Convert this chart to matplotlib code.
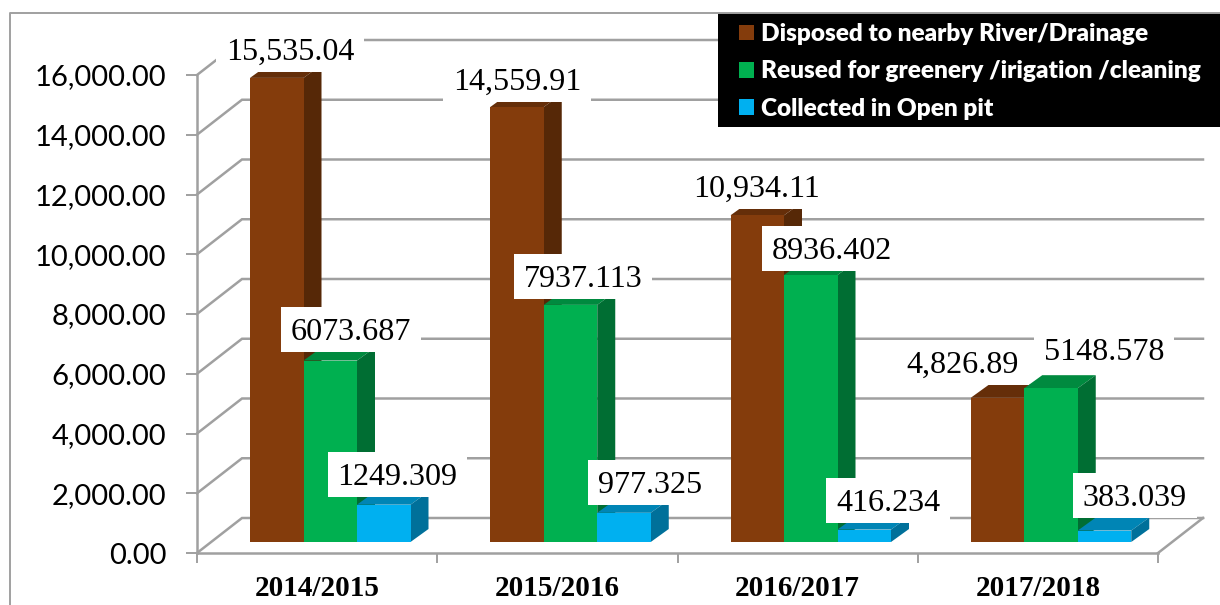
#!/usr/bin/env python3
"""
3D style clustered bars of wastewater disposal per year
"""

import numpy as np
import matplotlib
matplotlib.use('Agg')
import matplotlib.pyplot as plt
from matplotlib.lines import Line2D
from matplotlib.patches import Rectangle

years = ['2014/2015', '2015/2016', '2016/2017', '2017/2018']
series_names = ['Disposed to nearby River/Drainage',
                'Reused for greenery /irigation /cleaning',
                'Collected in Open pit']
disposed = [15535.04, 14559.91, 10934.11, 4826.89]
reused = [6073.687, 7937.113, 8936.402, 5148.578]
pit = [1249.309, 977.325, 416.234, 383.039]
disposed_labels = ['15,535.04', '14,559.91', '10,934.11', '4,826.89']
reused_labels = ['6073.687', '7937.113', '8936.402', '5148.578']
pit_labels = ['1249.309', '977.325', '416.234', '383.039']
y_ticks = [0, 2000, 4000, 6000, 8000, 10000, 12000, 14000, 16000]

W, H = 1220, 605
GRAY = '#a0a0a0'

fig = plt.figure(figsize=(W / 100, H / 100), dpi=100)
ax = fig.add_axes([197 / W, (H - 553) / H, (1158 - 197) / W, (553 - 75) / H])
ax.set_xlim(0, 4)
ax.set_ylim(0, 16000)
ax.patch.set_visible(False)

# pixel sizes turned into data units
px_x = 4 / (1158 - 197)
px_y = 16000 / (553 - 75)


def px(x, y):
    # image pixel -> data coords
    return (x - 197) * px_x, (553 - y) * px_y


# outer frame of the chart area
fig.add_artist(Line2D([10 / W, 10 / W, 1], [0, 1 - 13 / H, 1 - 13 / H], color=GRAY, lw=1.4))

# back wall and side wall gridlines
wall_x = 45 * px_x
wall_y = 35 * px_y
for t in y_ticks:
    ax.plot([0, wall_x, 4 + wall_x], [t, t + wall_y, t + wall_y], color=GRAY, lw=1.8,
            clip_on=False, zorder=1, solid_joinstyle='miter')
ax.plot([4, 4 + wall_x], [0, wall_y], color=GRAY, lw=1.8, clip_on=False, zorder=1)

# bars, offset on the floor so that they stand inside the box
colors = [('#843c0c', '#652e09', '#562807'),
          ('#00b050', '#008a3f', '#006e33'),
          ('#00b0f0', '#0085b5', '#00709a')]
bar_w = 53.5 / 240.25
depth_x = 18 * px_x
depth_y = 13 * px_y
base_x = 14 * px_x
base_y = 11 * px_y
group_left = 39 * px_x

bars = []
for s, vals in enumerate([disposed, reused, pit]):
    front, top, side = colors[s]
    lefts = np.arange(4) + group_left + s * bar_w + base_x
    b = ax.bar(lefts, vals, bar_w, bottom=base_y, align='edge', color=front,
               label=series_names[s], zorder=3 + s * 2, clip_on=False)
    bars.append(b)
    for left, v in zip(lefts, vals):
        r = left + bar_w
        tp = v + base_y
        ax.fill([left, r, r + depth_x, left + depth_x], [tp, tp, tp + depth_y, tp + depth_y],
                color=top, lw=0, zorder=2.5 + s * 2, clip_on=False)
        ax.fill([r, r + depth_x, r + depth_x, r], [base_y, base_y + depth_y, tp + depth_y, tp],
                color=side, lw=0, zorder=2.5 + s * 2, clip_on=False)

# value labels, white boxes hide what is behind them
label_pos = {
    0: [(290, 49), (517, 79), (757, 186), (963, 362)],
    1: [(351, 329), (583, 276), (832, 248), (1104, 349)],
    2: [(397, 474), (650, 482), (888, 500), (1135, 495)],
}
renderer = fig.canvas.get_renderer()
for s, labels in enumerate([disposed_labels, reused_labels, pit_labels]):
    for lab, (lx, ly) in zip(labels, label_pos[s]):
        x, y = px(lx, ly + 11)
        txt = ax.text(x, y, lab, family='Liberation Serif', fontsize=23.1, color='black',
                      ha='center', va='baseline', zorder=21, clip_on=False)
        half = txt.get_window_extent(renderer).width / 2 + 9.5
        x0, y0 = px(lx - half, ly + 22.5)
        ax.add_patch(Rectangle((x0, y0), 2 * half * px_x, 45 * px_y, fc='white', ec='none',
                               zorder=20, clip_on=False))

# axes
for side in ['top', 'right']:
    ax.spines[side].set_visible(False)
for side in ['left', 'bottom']:
    ax.spines[side].set_color(GRAY)
    ax.spines[side].set_linewidth(1.8)
ax.set_yticks(y_ticks)
ax.set_yticklabels(['{:,.2f}'.format(t) for t in y_ticks], family='Lato', fontsize=21)
ax.tick_params(axis='y', length=8, width=1.4, color=GRAY, pad=14)
ax.set_xticks(range(5))
ax.set_xticklabels([])
ax.tick_params(axis='x', which='major', length=7, width=1.4, color=GRAY)
ax.set_xticks(np.arange(4) + 0.5, minor=True)
ax.set_xticklabels(years, minor=True, family='Liberation Serif', fontweight='bold', fontsize=21)
ax.tick_params(axis='x', which='minor', length=0, pad=16)

# legend sits on a black box running off the right edge
x0, y0 = px(718, 127)
ax.add_patch(Rectangle((x0, y0), (W - 718) * px_x, 114 * px_y, fc='black', ec='none',
                       zorder=29, clip_on=False))
leg = ax.legend(handles=list(bars), loc='upper left', bbox_to_anchor=px(739, 23),
                bbox_transform=ax.transData, borderaxespad=0, borderpad=0, frameon=False,
                prop=dict(family='Lato', weight='heavy', size=17.6),
                handlelength=0.61, handleheight=0.61, handletextpad=0.28,
                labelspacing=0.63)
leg.set_zorder(30)
for t in leg.get_texts():
    t.set_color('white')

plt.savefig('out.png', dpi=100)
